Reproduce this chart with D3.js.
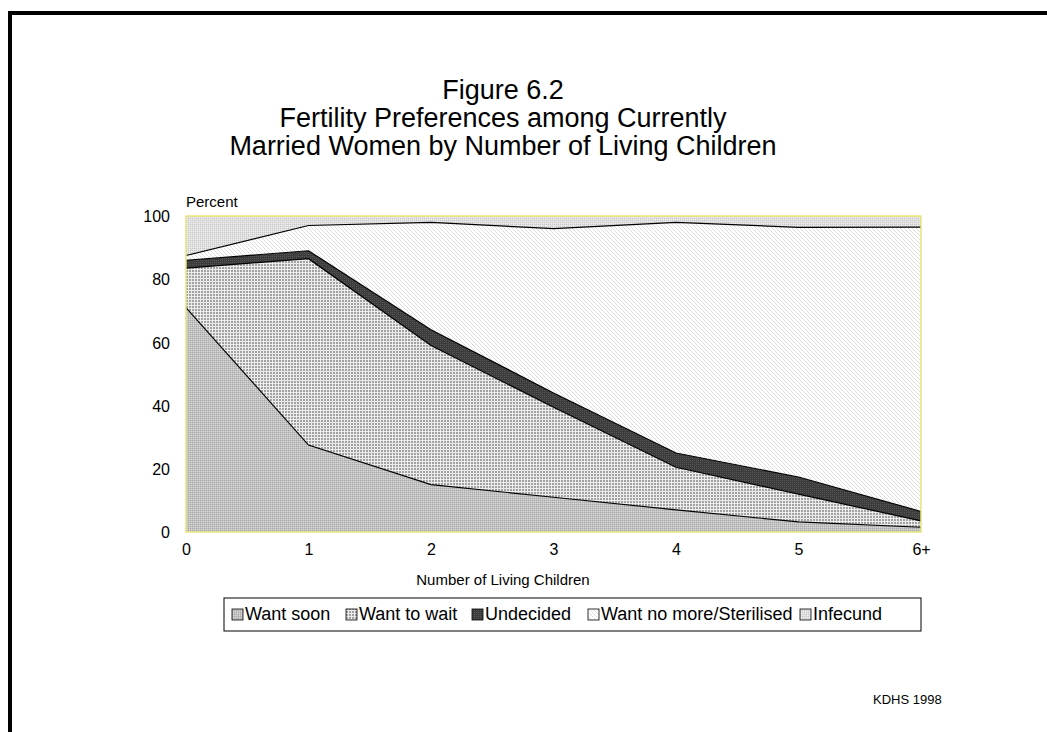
<!DOCTYPE html>
<html>
<head>
<meta charset="utf-8">
<script src="https://cdn.jsdelivr.net/npm/d3@7"></script>
<style>
  body { margin: 0; background: #fff; }
  text { font-family: "Liberation Sans", Arial, sans-serif; fill: #000; }
</style>
</head>
<body>
<script>
// data (percent of currently married women)
var categories = ["0", "1", "2", "3", "4", "5", "6+"];
var seriesNames = ["Want soon", "Want to wait", "Undecided", "Want no more/Sterilised", "Infecund"];
var wantSoon   = [71, 27.5, 15, 11, 7, 3.2, 1.5];
var wantWait   = [12.5, 59, 44, 28.5, 13.5, 8.8, 2];
var undecided  = [2.5, 2.5, 5, 4.5, 4.5, 5.4, 3];
var wantNoMore = [1.5, 8, 34, 52, 73, 79, 90];
var infecund   = [12.5, 3, 2, 4, 2, 3.6, 3.5];
var yTicks = [0, 20, 40, 60, 80, 100];

var W = 1047, H = 732;
var svg = d3.select("body").append("svg").attr("width", W).attr("height", H);

// ---- fill patterns, imitating the old printer textures
var defs = svg.append("defs");
function pat(id, size, bg, cells) {
  var p = defs.append("pattern").attr("id", id).attr("patternUnits", "userSpaceOnUse")
    .attr("width", size).attr("height", size);
  p.append("rect").attr("width", size).attr("height", size).attr("fill", bg);
  cells.forEach(c => p.append("rect").attr("x", c[0]).attr("y", c[1])
    .attr("width", c[3] || 1).attr("height", c[3] || 1).attr("fill", c[2]));
}
pat("p0", 2, "#c4c4c4", [[0, 0, "#a8a8a8"], [1, 1, "#d4d4d4"]]);
pat("p1", 3, "#ececec", [[0, 0, "#a2a2a2", 2]]);
pat("p2", 2, "#3c3c3c", [[0, 0, "#555555"]]);
pat("p3", 4, "#ffffff", [[0, 0, "#d8d8d8"], [1, 1, "#e2e2e2"], [2, 2, "#d8d8d8"], [3, 3, "#e2e2e2"]]);
pat("p4", 4, "#e2e2e2", [[0, 0, "#c8c8c8"], [2, 0, "#c8c8c8"], [0, 2, "#c8c8c8"], [2, 2, "#c8c8c8"], [1, 1, "#f2f2f2"], [3, 3, "#f2f2f2"]]);
var fills = ["url(#p0)", "url(#p1)", "url(#p2)", "url(#p3)", "url(#p4)"];

// ---- outer frame (runs off the right and bottom of the page)
svg.append("rect").attr("x", 10).attr("y", 13).attr("width", W + 20).attr("height", H + 20)
  .attr("fill", "none").attr("stroke", "#000").attr("stroke-width", 4);

// ---- title
var title = ["Figure 6.2", "Fertility Preferences among Currently", "Married Women by Number of Living Children"];
svg.append("g").selectAll("text").data(title).enter().append("text")
  .attr("x", 503).attr("y", (d, i) => 99 + i * 28)
  .attr("text-anchor", "middle").style("font-size", "27px").text(d => d);

// ---- plot
var pLeft = 186, pRight = 921, pTop = 216, pBottom = 532;
var x = d3.scalePoint().domain(categories).range([pLeft, pRight]);
var y = d3.scaleLinear().domain([0, 100]).range([pBottom, pTop]);

var rows = categories.map((c, i) => ({
  cat: c, s0: wantSoon[i], s1: wantWait[i], s2: undecided[i], s3: wantNoMore[i], s4: infecund[i]
}));
var stack = d3.stack().keys(["s0", "s1", "s2", "s3", "s4"]);
var layers = stack(rows);

var area = d3.area().x(d => x(d.data.cat)).y0(d => y(d[0])).y1(d => y(d[1]));
var topLine = d3.line().x(d => x(d.data.cat)).y(d => y(d[1]));

var g = svg.append("g");
g.selectAll("path.area").data(layers).enter().append("path")
  .attr("class", "area").attr("d", area).attr("fill", (d, i) => fills[i]);
g.selectAll("path.edge").data(layers.slice(0, 4)).enter().append("path")
  .attr("class", "edge").attr("d", topLine).attr("fill", "none")
  .attr("stroke", "#000").attr("stroke-width", 1.2);

// plot area border (yellowish, as in the original)
g.append("rect").attr("x", pLeft).attr("y", pTop).attr("width", pRight - pLeft).attr("height", pBottom - pTop)
  .attr("fill", "none").attr("stroke", "#e6e67a").attr("stroke-width", 1.5);

// y axis
var yAxis = svg.append("g").attr("transform", "translate(" + pLeft + ",0)")
  .call(d3.axisLeft(y).tickValues(yTicks).tickSize(0).tickPadding(16));
yAxis.select(".domain").remove();
yAxis.selectAll("text").style("font-size", "16px").attr("dy", "0.35em");

svg.append("text").attr("x", pLeft).attr("y", 207).style("font-size", "15px").text("Percent");

// x axis
var xAxis = svg.append("g").attr("transform", "translate(0," + pBottom + ")")
  .call(d3.axisBottom(x).tickSize(0).tickPadding(12));
xAxis.select(".domain").remove();
xAxis.selectAll("text").style("font-size", "16px");

svg.append("text").attr("x", 503).attr("y", 585).attr("text-anchor", "middle")
  .style("font-size", "15px").text("Number of Living Children");

// legend
var lg = svg.append("g");
lg.append("rect").attr("x", 224).attr("y", 598).attr("width", 697).attr("height", 33)
  .attr("fill", "#fff").attr("stroke", "#000").attr("stroke-width", 1);
var legendX = [232, 346, 472, 588, 800];
var item = lg.selectAll("g.item").data(seriesNames).enter().append("g").attr("class", "item")
  .attr("transform", (d, i) => "translate(" + legendX[i] + ",608)");
item.append("rect").attr("width", 11).attr("height", 11).attr("y", 1)
  .attr("fill", (d, i) => fills[i]).attr("stroke", "#000").attr("stroke-width", 0.8);
item.append("text").attr("x", 13).attr("y", 12).style("font-size", "18px").text(d => d);

svg.append("text").attr("x", 873).attr("y", 704).style("font-size", "13px").text("KDHS 1998");
</script>
</body>
</html>
